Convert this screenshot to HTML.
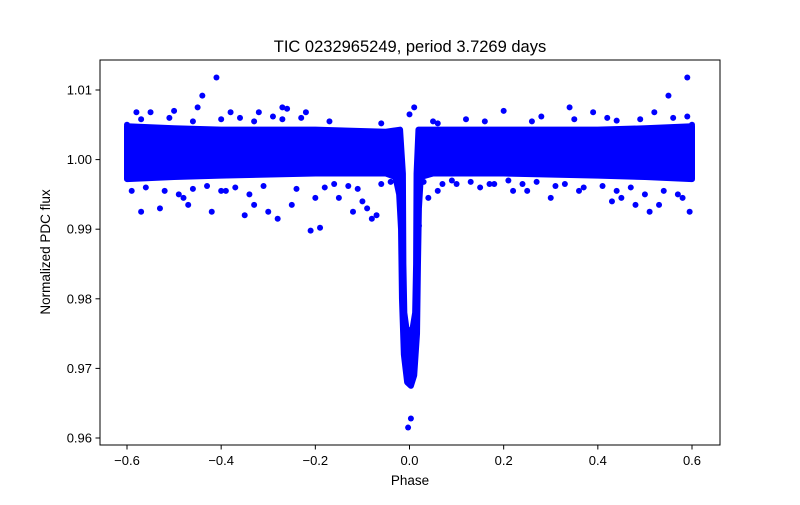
<!DOCTYPE html>
<html><head><meta charset="utf-8"><style>
body{margin:0;background:#fff}
svg text{font-family:"Liberation Sans","DejaVu Sans",sans-serif;fill:#000}
</style></head><body>
<svg id="chart" width="800" height="500" xmlns="http://www.w3.org/2000/svg">
<rect width="800" height="500" fill="#fff"/>
<text x="410" y="52" font-size="16.5" text-anchor="middle">TIC 0232965249, period 3.7269 days</text>
<g id="marks"></g>
<rect x="100" y="60" width="620" height="385" fill="none" stroke="#000" stroke-width="1"/>
<g id="xaxis"></g>
<g id="yaxis"></g>
<text x="410" y="485" font-size="13.5" text-anchor="middle">Phase</text>
<text transform="translate(50,252) rotate(-90)" font-size="13.5" text-anchor="middle">Normalized PDC flux</text>
</svg>
<script>
const xTicks=[-0.6,-0.4,-0.2,0.0,0.2,0.4,0.6];
const xTickLabels=["−0.6","−0.4","−0.2","0.0","0.2","0.4","0.6"];
const yTicks=[0.96,0.97,0.98,0.99,1.00,1.01];
const yTickLabels=["0.96","0.97","0.98","0.99","1.00","1.01"];
// dense band envelope: upper edge (left to right), then lower edge (right to left)
const upperPhase=[-0.6,-0.5,-0.4,-0.2,-0.05,-0.02,-0.014,-0.013,-0.011,-0.006,0.006,0.012,0.014,0.015,0.019,0.05,0.2,0.4,0.5,0.6];
const upperFlux=[1.0048,1.0045,1.0043,1.0043,1.004,1.0043,0.998,0.985,0.978,0.9755,0.9755,0.978,0.985,0.998,1.0043,1.0043,1.0043,1.0043,1.0045,1.0048];
const lowerPhase=[0.6,0.5,0.4,0.2,0.05,0.024,0.02,0.018,0.016,0.01,0.003,-0.005,-0.012,-0.016,-0.018,-0.022,-0.03,-0.05,-0.2,-0.4,-0.5,-0.6];
const lowerFlux=[0.9972,0.9975,0.9977,0.998,0.998,0.9975,0.993,0.985,0.975,0.969,0.9675,0.968,0.972,0.98,0.99,0.995,0.9975,0.998,0.998,0.9977,0.9975,0.9972];
// individual scattered points
const ptPhase=[-0.41,-0.44,-0.45,-0.27,-0.26,-0.22,-0.32,-0.38,-0.5,-0.55,-0.58,-0.48,-0.47,-0.35,-0.3,-0.21,-0.19,-0.12,-0.09,-0.08,-0.07,-0.1,-0.15,-0.25,-0.42,-0.53,-0.57,-0.33,-0.28,-0.02,0.003,-0.003,0.02,0.04,0.01,0.0,0.2,0.34,0.39,0.52,0.55,0.59,0.595,0.48,0.43,0.3,0.25,0.15,0.1,0.06,0.58,0.53,0.51,0.45,0.36,0.22,0.18,-0.4,-0.2,-0.36,-0.23,-0.6,0.6,-0.29,0.05,0.12,0.28,0.42,
 -0.59,-0.56,-0.52,-0.49,-0.46,-0.43,-0.39,-0.37,-0.34,-0.31,-0.24,-0.18,-0.16,-0.13,-0.11,-0.06,-0.04,0.03,0.07,0.09,0.13,0.17,0.21,0.24,0.27,0.31,0.33,0.37,0.41,0.44,0.47,0.5,0.54,0.57,
 -0.57,-0.51,-0.46,-0.4,-0.33,-0.27,-0.17,-0.06,0.06,0.16,0.26,0.35,0.44,0.49,0.56,0.59];
const ptFlux=[1.0118,1.0092,1.0075,1.0075,1.0073,1.0068,1.0068,1.0068,1.007,1.0068,1.0068,0.9945,0.9935,0.992,0.9925,0.9898,0.9902,0.9925,0.993,0.9915,0.992,0.994,0.9945,0.9935,0.9925,0.993,0.9925,0.9935,0.9915,0.9965,0.9628,0.9615,0.9905,0.9945,1.0075,1.0065,1.007,1.0075,1.0068,1.0068,1.0092,1.0118,0.9925,0.9935,0.994,0.9945,0.9955,0.996,0.9965,0.9955,0.9945,0.9935,0.9925,0.9945,0.9955,0.9955,0.9965,0.9955,0.9945,1.006,1.006,1.005,1.005,1.0062,1.0055,1.0058,1.0062,1.006,
 0.9955,0.996,0.9955,0.995,0.9958,0.9962,0.9955,0.996,0.995,0.9962,0.9958,0.996,0.9965,0.9962,0.9958,0.9965,0.9968,0.9968,0.9965,0.997,0.9968,0.9965,0.997,0.9965,0.9968,0.9962,0.9965,0.996,0.9962,0.9955,0.996,0.995,0.9955,0.995,
 1.0058,1.006,1.0055,1.0058,1.0055,1.0058,1.0055,1.0052,1.0052,1.0055,1.0055,1.0058,1.0056,1.0058,1.006,1.0062];
const X=v=>127+(v+0.6)/1.2*565;
const Y=v=>90+(1.01-v)/0.05*348;
const NS="http://www.w3.org/2000/svg";
const marks=document.getElementById('marks');
let d="";
upperPhase.forEach((p,i)=>{d+=(i?"L":"M")+X(p)+","+Y(upperFlux[i]);});
lowerPhase.forEach((p,i)=>{d+="L"+X(p)+","+Y(lowerFlux[i]);});
d+="Z";
const band=document.createElementNS(NS,'path');
band.setAttribute('d',d);band.setAttribute('fill','#0000ff');band.setAttribute('stroke','#0000ff');
band.setAttribute('stroke-width','6');band.setAttribute('stroke-linejoin','round');


marks.appendChild(band);
ptPhase.forEach((p,i)=>{
 const c=document.createElementNS(NS,'circle');
 c.setAttribute('cx',X(p));c.setAttribute('cy',Y(ptFlux[i]));c.setAttribute('r','3');c.setAttribute('fill','#0000ff');
 
 
 marks.appendChild(c);
});
const xa=document.getElementById('xaxis');
xTicks.forEach((t,i)=>{
 const l=document.createElementNS(NS,'line');
 l.setAttribute('x1',X(t));l.setAttribute('x2',X(t));l.setAttribute('y1',445);l.setAttribute('y2',449.5);l.setAttribute('stroke','#000');
 
 
 xa.appendChild(l);
 const tx=document.createElementNS(NS,'text');
 tx.setAttribute('x',X(t));tx.setAttribute('y',465);tx.setAttribute('font-size','13');tx.setAttribute('text-anchor','middle');
 tx.textContent=xTickLabels[i];
 
 
 xa.appendChild(tx);
});
const ya=document.getElementById('yaxis');
yTicks.forEach((t,i)=>{
 const l=document.createElementNS(NS,'line');
 l.setAttribute('x1',95.5);l.setAttribute('x2',100);l.setAttribute('y1',Y(t));l.setAttribute('y2',Y(t));l.setAttribute('stroke','#000');
 
 
 ya.appendChild(l);
 const tx=document.createElementNS(NS,'text');
 tx.setAttribute('x',92);tx.setAttribute('y',Y(t)+4.5);tx.setAttribute('font-size','13');tx.setAttribute('text-anchor','end');
 tx.textContent=yTickLabels[i];
 
 
 ya.appendChild(tx);
});
</script>
</body></html>
